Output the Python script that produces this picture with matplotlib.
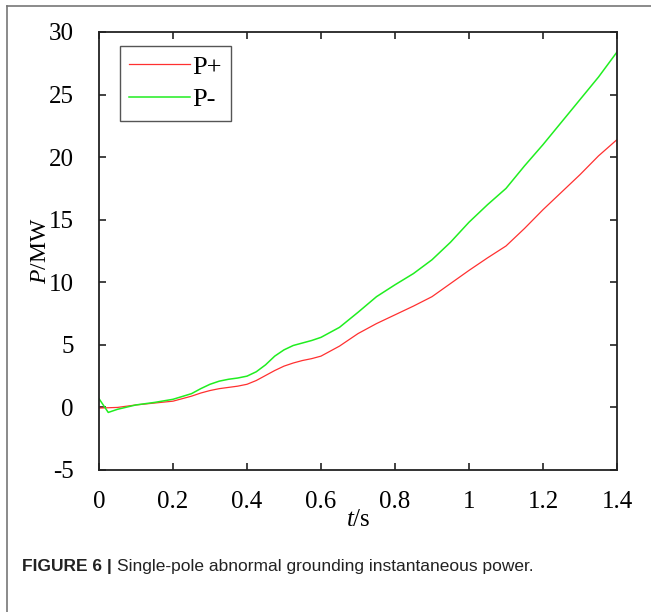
import matplotlib
matplotlib.use('Agg')
import matplotlib.pyplot as plt
from matplotlib.lines import Line2D

plt.rcParams['mathtext.fontset'] = 'custom'
plt.rcParams['mathtext.it'] = 'Liberation Serif:italic'
plt.rcParams['mathtext.rm'] = 'Liberation Serif'

# Time points (s)
t_neg = [0.0, 0.025, 0.05, 0.1, 0.15, 0.2, 0.25, 0.275, 0.3, 0.325, 0.35,
         0.375, 0.4, 0.425, 0.45, 0.475, 0.5, 0.525, 0.55, 0.575, 0.6, 0.65,
         0.7, 0.75, 0.8, 0.85, 0.9, 0.95, 1.0, 1.05, 1.1, 1.15, 1.2, 1.25,
         1.3, 1.35, 1.4]
t_pos = [0.0, 0.05, 0.1, 0.15, 0.2, 0.25, 0.275, 0.3, 0.325, 0.35, 0.375,
         0.4, 0.425, 0.45, 0.475, 0.5, 0.525, 0.55, 0.575, 0.6, 0.65, 0.7,
         0.75, 0.8, 0.85, 0.9, 0.95, 1.0, 1.05, 1.1, 1.15, 1.2, 1.25, 1.3,
         1.35, 1.4]

# Power (MW)
p_neg = [0.7, -0.4, -0.15, 0.2, 0.4, 0.65, 1.1, 1.5, 1.85, 2.1, 2.25,
         2.35, 2.5, 2.85, 3.4, 4.1, 4.6, 4.95, 5.15, 5.35, 5.6, 6.4,
         7.6, 8.85, 9.8, 10.7, 11.8, 13.2, 14.8, 16.2, 17.5, 19.3, 21.0, 22.8,
         24.6, 26.4, 28.4]
p_pos = [-0.05, 0.0, 0.2, 0.35, 0.5, 0.9, 1.15, 1.35, 1.5, 1.6, 1.7,
         1.85, 2.15, 2.55, 2.95, 3.3, 3.55, 3.75, 3.9, 4.1, 4.9, 5.9,
         6.7, 7.4, 8.1, 8.85, 9.9, 10.95, 11.95, 12.9, 14.3, 15.8, 17.2, 18.6,
         20.1, 21.4]

xticks = [0, 0.2, 0.4, 0.6, 0.8, 1, 1.2, 1.4]
xtick_labels = ['0', '0.2', '0.4', '0.6', '0.8', '1', '1.2', '1.4']
yticks = [-5, 0, 5, 10, 15, 20, 25, 30]
ytick_labels = ['-5', '0', '5', '10', '15', '20', '25', '30']

serif = 'Liberation Serif'

fig = plt.figure(figsize=(6.51, 6.12), dpi=100)
ax = fig.add_axes([99 / 651, 1 - 470 / 612, 518 / 651, 438 / 612])

ax.plot(t_pos, p_pos, color='#ff3030', lw=0.9, label='P+')
ax.plot(t_neg, p_neg, color='#20ee20', lw=1.1, label='P-')

ax.set_xlim(0, 1.4)
ax.set_ylim(-5, 30)
ax.set_xticks(xticks)
ax.set_xticklabels(xtick_labels, family=serif, fontsize=18)
ax.set_yticks(yticks)
ax.set_yticklabels(ytick_labels, family=serif, fontsize=18)
ax.tick_params(direction='in', top=True, right=True, length=5, width=1.2,
               color='#222222')
ax.tick_params(axis='x', pad=15)
ax.tick_params(axis='y', pad=18)
for s in ax.spines.values():
    s.set_linewidth(1.3)
    s.set_color('#222222')

ax.set_xlabel(r'$\it{t}$/s', family=serif, fontsize=18, labelpad=-3)
ax.set_ylabel(r'$\it{P}$/MW', family=serif, fontsize=17, labelpad=-1.5)

leg = ax.legend(loc='upper left', bbox_to_anchor=(0.04, 0.968),
                borderaxespad=0, prop={'family': serif, 'size': 19},
                handlelength=2.3, handletextpad=0.1, borderpad=0.35,
                labelspacing=0.35, fancybox=False, framealpha=1)
leg.get_frame().set_edgecolor('#555555')
leg.get_frame().set_linewidth(1.0)

# outer frame (left and top edges visible)
fig.add_artist(Line2D([7 / 651, 7 / 651], [0, 1 - 6 / 612], color='#777777', lw=1.2))
fig.add_artist(Line2D([7 / 651, 1], [1 - 6 / 612, 1 - 6 / 612], color='#777777', lw=1.2))

# caption
cap_font = ['Liberation Sans Narrow', 'Liberation Sans']
t1 = fig.text(22 / 651, 1 - 566 / 612, 'FIGURE 6 | ', family=cap_font,
              fontsize=12.5, fontweight='bold', va='center', color='#222222')
fig.canvas.draw()
bb = t1.get_window_extent()
fig.text(bb.x1 / fig.bbox.width, 1 - 566 / 612,
         'Single-pole abnormal grounding instantaneous power.',
         family=cap_font, fontsize=12.5, va='center', color='#222222')

fig.savefig('out.png', dpi=100)
